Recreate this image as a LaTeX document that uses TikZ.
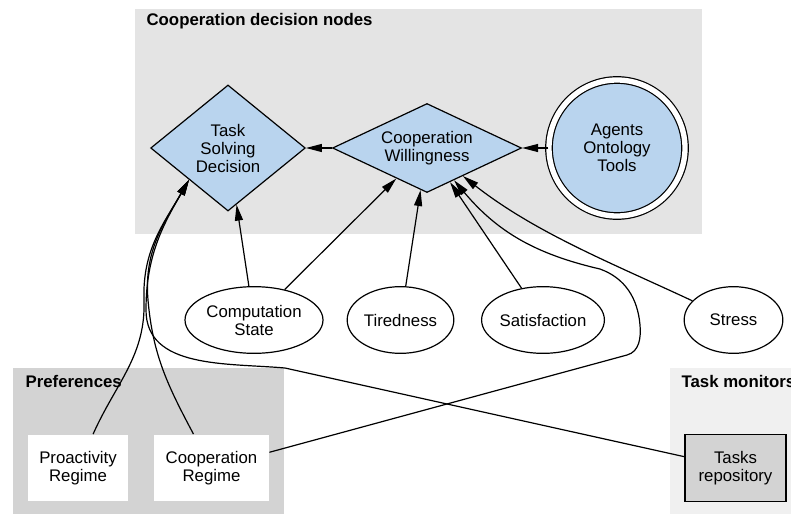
\documentclass[tikz,border=0pt]{standalone}
\usepackage{fontspec}
\setmainfont{Liberation Sans}
\usetikzlibrary{shapes.geometric,arrows.meta}

\definecolor{knotenblau}{HTML}{B9D4EE}
\definecolor{grauA}{HTML}{E4E4E4}
\definecolor{grauB}{HTML}{D3D3D3}
\definecolor{grauC}{HTML}{F0F0F0}

\begin{document}
\begin{tikzpicture}[x=0.75pt,y=-0.75pt,line width=0.9pt,
		>={Triangle[length=12pt,width=6pt]},
		font=\fontsize{12.6}{13.5}\selectfont,
		raute/.style={diamond,draw,fill=knotenblau,align=center,inner sep=0pt},
		knoten/.style={ellipse,draw,fill=white,align=center,inner sep=0pt,minimum height=50pt},
		kasten/.style={rectangle,fill=white,align=center,inner sep=0pt,minimum height=50pt},
		titel/.style={anchor=base west,inner sep=0pt,font=\fontsize{12.6}{13.5}\selectfont\bfseries}]
		\useasboundingbox (0,0) rectangle (791,514);
		
		%Hintergrund der Gruppen
		\fill[grauA] (135,9) rectangle (702,234);
		\fill[grauB] (13,368) rectangle (284,514);
		\fill[grauC] (670,368) rectangle (800,514);
		\node[titel] (tcd) at (146,26) {Cooperation decision nodes};
		\node[titel] (tpr) at (25,387) {Preferences};
		\node[titel] (ttm) at (681,387) {Task monitors};
		
		%Entscheidungsknoten
		\node[raute,aspect=1.23,minimum width=116pt,minimum height=94.5pt] (tsd) at (228,148) {Task\\Solving\\Decision};
		\node[raute,aspect=2.12,minimum width=141.75pt,minimum height=66.75pt] (cw) at (427,148) {Cooperation\\Willingness};
		\node[circle,draw,double=white,double distance=4pt,fill=knotenblau,minimum size=102pt,inner sep=0pt,align=center] (aot) at (617,148) {Agents\\Ontology\\Tools};
		
		\node[knoten,minimum width=103.5pt] (cs) at (254,320) {Computation\\State};
		\node[knoten,minimum width=80pt] (ti) at (400.5,320) {Tiredness};
		\node[knoten,minimum width=91.5pt] (sa) at (543,320) {Satisfaction};
		\node[knoten,minimum width=74pt] (st) at (733.5,320) {Stress};
		
		\node[kasten,minimum width=75pt] (pr) at (78,468) {Proactivity\\Regime};
		\node[kasten,minimum width=86pt] (cr) at (211.5,468) {Cooperation\\Regime};
		\node[kasten,draw,fill=grauB,minimum width=75.75pt] (tr) at (735.5,468) {Tasks\\repository};
		
		\draw[->] (aot) -- (cw);
		\draw[->] (cw) -- (tsd);
		\draw[->] (cs) -- (tsd);
		\draw[->] (cs) -- (cw);
		\draw[->] (ti) -- (cw);
		\draw[->] (sa) -- (cw);
		\draw[->] (st) to[out=155,in=-38,looseness=0.9] (cw);
		\draw[->] (cr) -- (627,355) to[out=15,in=-85] (640,325) to[out=95,in=-20] (600,269) to[out=167,in=-50] (cw);
		
		%Kanten von unten in die Entscheidung
		\draw[->] (pr) to[out=66,in=-88] (144,300) to[out=92,in=-120] (tsd.south west);
		\draw[->] (cr) to[out=118,in=-85] (148,300) to[out=95,in=-120] (tsd.south west);
		\draw[->] (tr) -- (285,368) to[out=175,in=-90] (146,310) to[out=90,in=-120] (tsd.south west);
		
	\end{tikzpicture}
\end{document}
